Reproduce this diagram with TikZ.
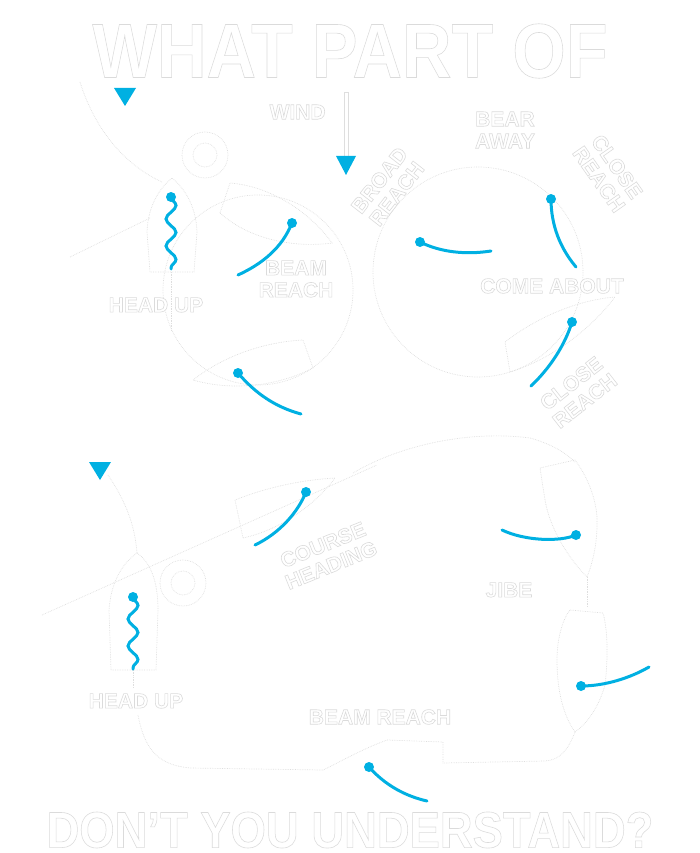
\documentclass[tikz,border=0pt]{standalone}
\usepackage{fontspec}
\setmainfont{Liberation Sans}
\usetikzlibrary{positioning, decorations.pathmorphing}

\definecolor{sailblue}{RGB}{0,176,226}
\definecolor{ghost}{gray}{0.87}
% white letters with a thin grey outline (fill and stroke text mode)
\newcommand{\outl}[1]{\special{pdf:literal direct 2 Tr 0.6 w 0.86 G}#1\special{pdf:literal direct 0 Tr}}

\tikzset{
  tag/.style={text=white, font=\fontsize{21}{22}\selectfont\bfseries, align=center, inner sep=0pt},
  headline/.style={text=white, inner sep=0pt},
  tack/.style={draw=sailblue, line width=3pt, line cap=round},
  wiggle/.style={tack, decorate, decoration={snake, amplitude=5pt, segment length=27pt}},
  ghostline/.style={draw=ghost, densely dotted, line width=0.7pt},
}

\begin{document}
\begin{tikzpicture}[x=1pt, y=-1pt, node distance=1cm]
\useasboundingbox (0,0) rectangle (700,853);

        % faint course drawing, top half
        \draw[ghostline] (258,290) circle (95);
        \draw[ghostline] (478,272) circle (105);
        \draw[ghostline] (150,272) -- (147,232) .. controls (148,205) and (160,188) .. (172,178)
              .. controls (184,188) and (196,205) .. (197,232) -- (194,272) -- cycle;
        \draw[ghostline] (205,155) circle (23) (205,155) circle (12);
        \draw[ghostline] (80,82) .. controls (95,130) and (125,165) .. (162,182);
        \draw[ghostline] (70,257) -- (150,218);
        \draw[ghostline] (171,272) -- (171,330);
        \draw[ghostline] (220,213) -- (230,183) .. controls (270,186) and (310,212) .. (332,243)
              .. controls (295,248) and (250,240) .. cycle;
        \draw[ghostline] (193,380) .. controls (225,355) and (265,342) .. (303,340) -- (313,368)
              .. controls (280,385) and (235,392) .. cycle;
        \draw[ghostline] (510,372) -- (505,342) .. controls (540,315) and (580,300) .. (615,297)
              .. controls (590,330) and (550,360) .. cycle;

        % faint course drawing, bottom half
        \draw[ghostline] (111,670) -- (109,610) .. controls (111,580) and (124,562) .. (137,553)
              .. controls (150,562) and (158,580) .. (158,610) -- (156,670) -- cycle;
        \draw[ghostline] (133,670) -- (133,688);
        \draw[ghostline] (183,583) circle (23) (183,583) circle (12);
        \draw[ghostline] (108,475) .. controls (125,500) and (135,525) .. (137,553);
        \draw[ghostline] (42,615) -- (377,465);
        \draw[ghostline] (235,500) -- (243,538) .. controls (280,530) and (315,505) .. (335,478)
              .. controls (300,480) and (265,488) .. cycle;
        \draw[ghostline] (353,473) .. controls (400,445) and (470,430) .. (530,438)
              .. controls (555,445) and (568,455) .. (575,462);
        \draw[ghostline] (540,468) -- (575,460) .. controls (590,480) and (598,505) .. (597,525)
              .. controls (597,545) and (592,565) .. (587,577) .. controls (570,560) and (550,530) .. (545,500) -- cycle;
        \draw[ghostline] (587,577) -- (587,607);
        \draw[ghostline] (570,610) -- (603,613) .. controls (608,630) and (608,660) .. (605,685)
              .. controls (598,710) and (585,725) .. (575,732) .. controls (563,715) and (557,690) .. (557,660)
              .. controls (557,640) and (562,620) .. cycle;
        \draw[ghostline] (575,732) .. controls (568,750) and (560,760) .. (545,761) -- (443,763) -- (443,742)
              -- (387,740) .. controls (360,750) and (340,762) .. (323,770) -- (190,768)
              .. controls (160,765) and (145,752) .. (138,715);

        % headings
        \node[headline, font=\fontsize{77}{77}\selectfont\bfseries, xscale=0.89] (title) at (350,51) {\outl{WHAT PART OF}};
        \node[headline, font=\fontsize{51}{51}\selectfont\bfseries, xscale=0.89] (question) at (350,830) {\outl{DON'T YOU UNDERSTAND?}};

        % wind arrow
        \node[draw=ghost, fill=white, minimum width=4pt, minimum height=64pt, inner sep=0pt] (windshaft) at (346,124) {};
        \fill[sailblue] (336,156) -- (356,156) -- (346,175) -- cycle;
        \node[tag] (wind) [left=18pt of windshaft, yshift=12pt] {\outl{WIND}};

        % labels
        \node[tag] (headup) at (156,305) {\outl{HEAD UP}};
        \node[tag] (beamreach) at (296,279) {\outl{BEAM}\\\outl{REACH}};
        \node[tag] (bearaway) at (505,130) {\outl{BEAR}\\\outl{AWAY}};
        \node[tag, rotate=52] (broadreach) at (388,187) {\outl{BROAD}\\\outl{REACH}};
        \node[tag, rotate=-55] (closereach) at (608,173) {\outl{CLOSE}\\\outl{REACH}};
        \node[tag] (comeabout) at (552,286) {\outl{COME ABOUT}};
        \node[tag, rotate=38] (closereachlow) at (578,392) {\outl{CLOSE}\\\outl{REACH}};
        \node[tag, rotate=22] (course) at (327,555) {\outl{COURSE}\\\outl{HEADING}};
        \node[tag] (jibe) at (509,590) {\outl{JIBE}};
        \node[tag] (headuplow) at (136,701) {\outl{HEAD UP}};
        \node[tag] (beamreachlow) at (380,717) {\outl{BEAM REACH}};

        % blue sail markers
        \fill[sailblue] (114,88) -- (136,88) -- (125,106) -- cycle;
        \fill[sailblue] (89,462) -- (111,462) -- (100,480) -- cycle;

        \coordinate (luff) at (171,197); \coordinate (luffend) at (171,269);
        \draw[wiggle] (luff) -- (luffend);
        \fill[sailblue] (luff) circle (5);

        \coordinate (lufflow) at (133,597); \coordinate (lufflowend) at (133,669);
        \draw[wiggle] (lufflow) -- (lufflowend);
        \fill[sailblue] (lufflow) circle (5);

        \coordinate (beam) at (292,223); \coordinate (beamend) at (238,275);
        \draw[tack] (beam) .. controls (282,248) and (262,264) .. (beamend);
        \fill[sailblue] (beam) circle (5);

        \coordinate (broad) at (420,242); \coordinate (broadend) at (491,251);
        \draw[tack] (broad) .. controls (440,252) and (465,255) .. (broadend);
        \fill[sailblue] (broad) circle (5);

        \coordinate (close) at (551,199); \coordinate (closeend) at (576,267);
        \draw[tack] (close) .. controls (551,225) and (560,248) .. (closeend);
        \fill[sailblue] (close) circle (5);

        \coordinate (closelow) at (572,322); \coordinate (closelowend) at (531,386);
        \draw[tack] (closelow) .. controls (565,345) and (550,368) .. (closelowend);
        \fill[sailblue] (closelow) circle (5);

        \coordinate (headsail) at (238,373); \coordinate (headsailend) at (301,414);
        \draw[tack] (headsail) .. controls (255,393) and (275,407) .. (headsailend);
        \fill[sailblue] (headsail) circle (5);

        \coordinate (coursesail) at (306,492); \coordinate (coursesailend) at (255,545);
        \draw[tack] (coursesail) .. controls (298,512) and (280,533) .. (coursesailend);
        \fill[sailblue] (coursesail) circle (5);

        \coordinate (jibesail) at (576,535); \coordinate (jibesailend) at (502,530);
        \draw[tack] (jibesail) .. controls (560,542) and (525,541) .. (jibesailend);
        \fill[sailblue] (jibesail) circle (5);

        \coordinate (runsail) at (581,686); \coordinate (runsailend) at (649,667);
        \draw[tack] (runsail) .. controls (605,686) and (630,678) .. (runsailend);
        \fill[sailblue] (runsail) circle (5);

        \coordinate (beamsail) at (369,767); \coordinate (beamsailend) at (427,801);
        \draw[tack] (beamsail) .. controls (385,785) and (405,796) .. (beamsailend);
        \fill[sailblue] (beamsail) circle (5);

    \end{tikzpicture}
\end{document}
